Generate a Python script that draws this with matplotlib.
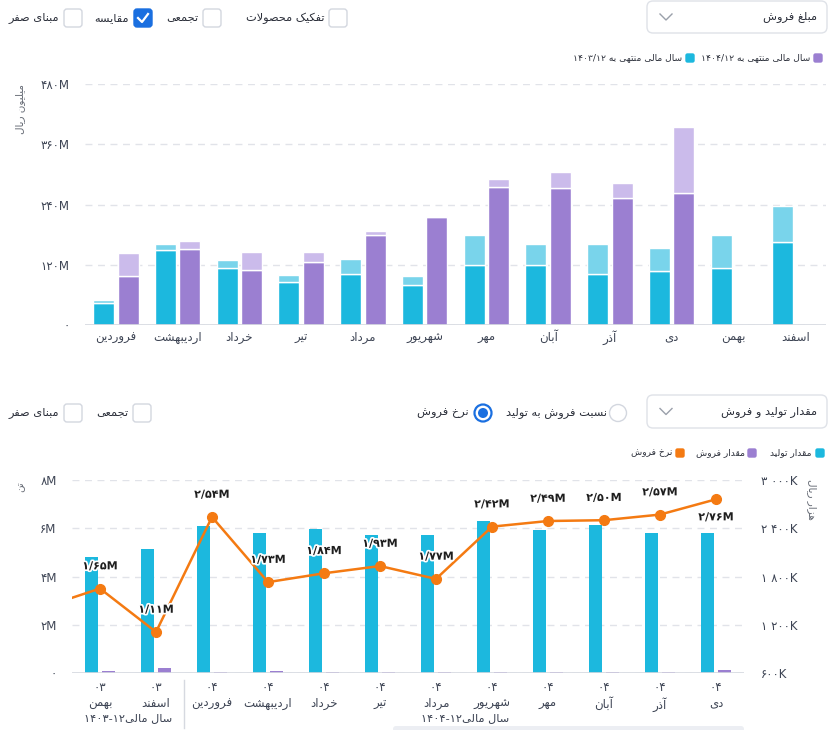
import matplotlib
matplotlib.use('Agg')
import numpy as np
import matplotlib.pyplot as plt
import matplotlib.patheffects as pe
from matplotlib.patches import FancyBboxPatch, Circle

# --- داده‌ها -------------------------------------------------------------
months = ['فروردین', 'اردیبهشت', 'خرداد', 'تیر', 'مرداد', 'شهریور',
          'مهر', 'آبان', 'آذر', 'دی', 'بهمن', 'اسفند']

# مبلغ فروش (میلیون ریال) - بخش پایینی و بخش روشن بالایی هر ستون
sales_1403_base = [43, 149, 113, 85, 101, 80, 120, 120, 101, 107, 113, 165]
sales_1403_extra = [7, 13, 16, 15, 31, 17.5, 60, 41, 60, 46, 67, 72]
sales_1404_base = [98, 151, 109, 125, 180, 216, 275, 272, 252, 262, np.nan, np.nan]
sales_1404_extra = [45, 16, 36, 20, 7, 2, 15, 32, 31, 132, np.nan, np.nan]

top_yticks = [0, 120, 240, 360, 480]

# مقدار تولید و فروش (میلیون تن) و نرخ فروش (هزار ریال)
period_years = ['03', '03', '04', '04', '04', '04', '04', '04', '04', '04', '04', '04']
period_months = ['بهمن', 'اسفند', 'فروردین', 'اردیبهشت', 'خرداد', 'تیر',
                 'مرداد', 'شهریور', 'مهر', 'آبان', 'آذر', 'دی']
production = [4.80, 5.13, 6.09, 5.81, 5.96, 5.71, 5.71, 6.31, 5.92, 6.14, 5.81, 5.81]
sold_qty = [0.07, 0.20, 0.03, 0.07, 0.03, 0.03, 0.05, 0.05, 0.05, 0.05, 0.05, 0.12]
sale_rate = [1650, 1110, 2540, 1730, 1840, 1930, 1770, 2420, 2490, 2500, 2570, 2760]
rate_before = 1420  # دوره قبل از بهمن (خارج از محدوده نمودار)

left_yticks = [0, 2, 4, 6, 8]
right_yticks = [600, 1200, 1800, 2400, 3000]

CYAN, CYAN_L = '#1cb8de', '#79d4eb'
PURPLE, PURPLE_L = '#9b7fd1', '#cbbbeb'
ORANGE = '#f47a12'
TXT = '#3d4454'
GRID = '#e1e3e9'

# --- شکل‌دهی حروف فارسی (matplotlib خودش این کار را نمی‌کند) ------------
_dual = {'ب': 0xFE8F, 'ت': 0xFE95, 'ث': 0xFE99, 'ج': 0xFE9D, 'ح': 0xFEA1, 'خ': 0xFEA5,
         'س': 0xFEB1, 'ش': 0xFEB5, 'ص': 0xFEB9, 'ض': 0xFEBD, 'ط': 0xFEC1, 'ظ': 0xFEC5,
         'ع': 0xFEC9, 'غ': 0xFECD, 'ف': 0xFED1, 'ق': 0xFED5, 'ل': 0xFEDD, 'م': 0xFEE1,
         'ن': 0xFEE5, 'ه': 0xFEE9, 'ئ': 0xFE89, 'پ': 0xFB56, 'چ': 0xFB7A, 'ک': 0xFB8E,
         'گ': 0xFB92, 'ی': 0xFBFC}
_right = {'ا': 0xFE8D, 'آ': 0xFE81, 'د': 0xFEA9, 'ذ': 0xFEAB, 'ر': 0xFEAD, 'ز': 0xFEAF,
          'و': 0xFEED, 'ژ': 0xFB8A}


def _shape(t):
    out, i, n = [], 0, len(t)
    while i < n:
        c = t[i]
        prev_j = i > 0 and t[i - 1] in _dual
        if c == 'ل' and i + 1 < n and t[i + 1] in 'اآ':
            base = 0xFEFB if t[i + 1] == 'ا' else 0xFEF5
            out.append(chr(base + (1 if prev_j else 0)))
            i += 2
            continue
        if c in _dual:
            next_j = i + 1 < n and (t[i + 1] in _dual or t[i + 1] in _right)
            off = {(False, False): 0, (True, False): 1, (False, True): 2, (True, True): 3}[(prev_j, next_j)]
            out.append(chr(_dual[c] + off))
        elif c in _right:
            out.append(chr(_right[c] + (1 if prev_j else 0)))
        else:
            out.append(c)
        i += 1
    return ''.join(out)


def _visual(line):
    if not any(c in _dual or c in _right for c in line):
        return line
    runs = []
    for c in _shape(line):
        ltr = c.isdigit() or (c.isascii() and c != ' ')
        if runs and runs[-1][0] == ltr:
            runs[-1][1] += c
        else:
            runs.append([ltr, c])
    return ''.join(r if ltr else r[::-1] for ltr, r in reversed(runs))


def fa(text):
    text = text.translate(str.maketrans('0123456789', '۰۱۲۳۴۵۶۷۸۹'))
    return '\n'.join(_visual(l) for l in text.split('\n'))


plt.rcParams['font.family'] = ['DejaVu Sans']

W, H = 832, 730
fig = plt.figure(figsize=(W / 100, H / 100), dpi=100)


def px_axes(x0, y0, x1, y1):
    return fig.add_axes([x0 / W, 1 - y1 / H, (x1 - x0) / W, (y1 - y0) / H])


def style_axes(ax):
    for s in ax.spines.values():
        s.set_visible(False)
    ax.tick_params(length=0, colors=TXT, labelsize=8.5)


# --- نمودار بالا: مبلغ فروش -----------------------------------------------
ax1 = px_axes(85, 84, 826, 325)
x = np.arange(len(months))
bw = 0.34
ax1.bar(x - 0.2, sales_1403_base, bw, color=CYAN, edgecolor='white', lw=1, zorder=3)
ax1.bar(x - 0.2, sales_1403_extra, bw, bottom=sales_1403_base, color=CYAN_L,
        edgecolor='white', lw=1, zorder=3)
ax1.bar(x + 0.2, sales_1404_base, bw, color=PURPLE, edgecolor='white', lw=1, zorder=3)
ax1.bar(x + 0.2, sales_1404_extra, bw, bottom=sales_1404_base, color=PURPLE_L,
        edgecolor='white', lw=1, zorder=3)
ax1.set_xlim(-0.5, len(months) - 0.5)
ax1.set_ylim(0, 480)
ax1.set_yticks(top_yticks)
ax1.set_yticklabels([fa(f'{v}M') if v else fa('0') for v in top_yticks])
ax1.set_xticks(x)
ax1.set_xticklabels([fa(m) for m in months])
style_axes(ax1)
ax1.tick_params(axis='y', pad=11)
ax1.tick_params(axis='x', pad=4)
ax1.yaxis.grid(True, color=GRID, ls=(0, (5, 4)), lw=1)
ax1.set_axisbelow(True)
ax1.axhline(0, color='#d6d9e0', lw=1.2, zorder=4)

# --- نمودار پایین: مقدار تولید و فروش ---------------------------------------
ax2 = px_axes(72, 480, 744, 673)
xp = np.arange(len(period_months))
ax2.bar(xp - 0.152, production, 0.232, color=CYAN, zorder=3)
ax2.bar(xp + 0.152, sold_qty, 0.232, color=PURPLE, zorder=3)
ax2.set_xlim(-0.5, len(xp) - 0.5)
ax2.set_ylim(0, 8)
ax2.set_yticks(left_yticks)
ax2.set_yticklabels([fa(f'{v}M') if v else fa('0') for v in left_yticks])
ax2.set_xticks(xp)
ax2.set_xticklabels([fa(f'{y}\n{m}') for y, m in zip(period_years, period_months)],
                    linespacing=1.25)
style_axes(ax2)
ax2.tick_params(axis='y', pad=11)
ax2.tick_params(axis='x', pad=6)
ax2.yaxis.grid(True, color=GRID, ls=(0, (5, 4)), lw=1)
ax2.set_axisbelow(True)
ax2.axhline(0, color='#d6d9e0', lw=1.2, zorder=4)

ax3 = ax2.twinx()
ax3.plot(np.r_[-1, xp], [rate_before] + sale_rate, color=ORANGE, lw=1.8,
         marker='o', ms=7, zorder=5)
ax3.set_ylim(600, 3000)
ax3.set_yticks(right_yticks)
ax3.set_yticklabels([fa(f'{v:,}K'.replace(',', ' ')) for v in right_yticks])
style_axes(ax3)
ax3.tick_params(axis='y', pad=12)
halo = [pe.withStroke(linewidth=2.5, foreground='white')]
for i, v in enumerate(sale_rate):
    below = i == len(sale_rate) - 1
    ax3.annotate(fa(f'{v / 1000:.2f}M'.replace('.', '/')), (i, v),
                 xytext=(0, -13 if below else 16), textcoords='offset points',
                 ha='center', va='center', fontsize=8, fontweight='bold',
                 color='#1e1e1e', path_effects=halo, zorder=6)

# --- عناصر رابط کاربری (پیکسلی) ---------------------------------------------
ov = fig.add_axes([0, 0, 1, 1])
ov.set_xlim(0, W)
ov.set_ylim(H, 0)
ov.axis('off')
ov.patch.set_alpha(0)

UI_SIZE = 8.2
LEG_SIZE = 6.6


def box(x0, y0, w, h, fc='white', ec='#d3d7df', r=3, lw=1):
    ov.add_patch(FancyBboxPatch((x0, y0), w, h, boxstyle=f'round,pad=0,rounding_size={r}',
                                fc=fc, ec=ec, lw=lw))


def label(xr, y, s, size=UI_SIZE, color='#2b2f3a', **kw):
    ov.text(xr, y, fa(s), ha='right', va='center', fontsize=size, color=color, **kw)


def dropdown(y0, y1, s):
    box(647, y0, 180, y1 - y0, ec='#dfe2e8', r=6)
    label(817, (y0 + y1) / 2, s)
    yc = (y0 + y1) / 2
    ov.plot([660, 666, 672], [yc - 3, yc + 3, yc - 3], color='#9aa0aa', lw=1)


def checkbox(x0, y0, s, xr, checked=False):
    if checked:
        box(x0, y0, 18, 18, fc='#1a6fe0', ec='#1a6fe0')
        ov.plot([x0 + 4, x0 + 8, x0 + 14], [y0 + 9, y0 + 13, y0 + 5], color='white', lw=1.6)
    else:
        box(x0, y0, 18, 18)
    label(xr, y0 + 9, s)


# ردیف بالا
checkbox(64, 9, 'مبنای صفر', 59)
checkbox(134, 9, 'مقایسه', 129, checked=True)
checkbox(203, 9, 'تجمعی', 198)
checkbox(329, 9, 'تفکیک محصولات', 325)
dropdown(1, 33, 'مبلغ فروش')

# راهنمای نمودار بالا
box(814, 54, 8, 8, fc=PURPLE, ec=PURPLE, r=1.5)
label(810, 58, 'سال مالی منتهی به 1404/12', size=LEG_SIZE)
box(686, 54, 8, 8, fc=CYAN, ec=CYAN, r=1.5)
label(682, 58, 'سال مالی منتهی به 1403/12', size=LEG_SIZE)
ov.text(20, 109, fa('میلیون ریال'), rotation=90, ha='center', va='center',
        fontsize=7.5, color='#666b75')

# ردیف پایین
checkbox(64, 404, 'مبنای صفر', 59)
checkbox(133, 404, 'تجمعی', 128)
dropdown(395, 428, 'مقدار تولید و فروش')
ov.add_patch(Circle((618, 413), 8.5, fc='white', ec='#d3d7df', lw=1))
label(607, 413, 'نسبت فروش به تولید')
ov.add_patch(Circle((483, 413), 8.5, fc='white', ec='#1a6fe0', lw=1.6))
ov.add_patch(Circle((483, 413), 5, fc='#1a6fe0', ec='none'))
label(469, 413, 'نرخ فروش')

# راهنمای نمودار پایین
box(816, 449, 8, 8, fc=CYAN, ec=CYAN, r=1.5)
label(812, 453, 'مقدار تولید', size=LEG_SIZE)
box(748, 449, 8, 8, fc=PURPLE, ec=PURPLE, r=1.5)
label(745, 453, 'مقدار فروش', size=LEG_SIZE)
box(676, 449, 8, 8, fc=ORANGE, ec=ORANGE, r=1.5)
label(672, 453, 'نرخ فروش', size=LEG_SIZE)
ov.text(20, 487, fa('تن'), rotation=90, ha='center', va='center', fontsize=7.5, color='#666b75')
ov.text(812, 499, fa('هزار ریال'), rotation=-90, ha='center', va='center',
        fontsize=7.5, color='#666b75')

# گروه‌بندی سال مالی زیر محور
ov.plot([184, 184], [680, 728], color='#d6d9e0', lw=1)
ov.text(128, 718, fa('سال مالی1403-12'), ha='center', va='center', fontsize=8.2, color=TXT)
ov.text(465, 718, fa('سال مالی1404-12'), ha='center', va='center', fontsize=8.2, color=TXT)
box(393, 726, 351, 6, fc='#eceef3', ec='none', r=3)

fig.savefig('out.png', dpi=100)
